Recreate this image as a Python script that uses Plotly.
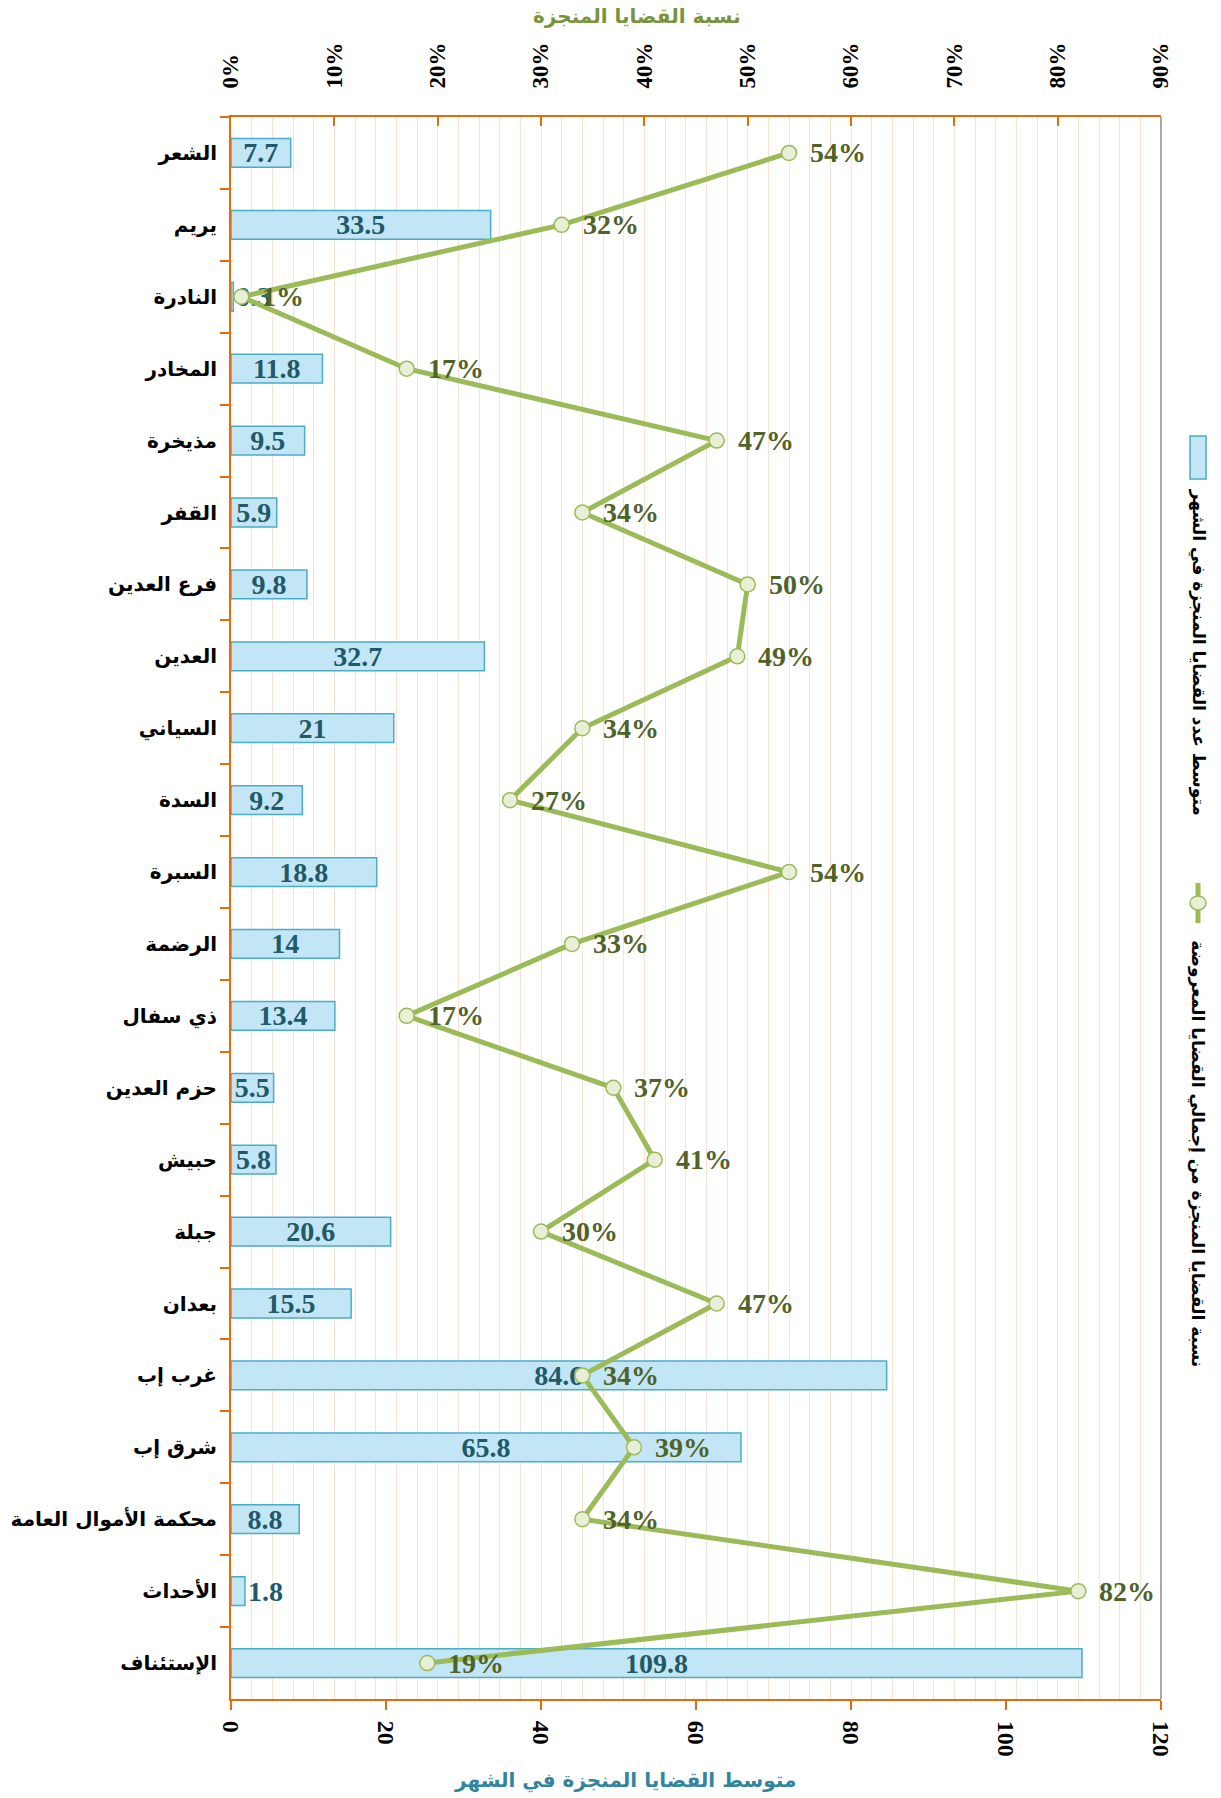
import plotly.graph_objects as go

# Courts (top to bottom)
courts = [
    "الشعر", "يريم", "النادرة", "المخادر", "مذيخرة", "القفر", "فرع العدين",
    "العدين", "السياني", "السدة", "السبرة", "الرضمة", "ذي سفال", "حزم العدين",
    "حبيش", "جبلة", "بعدان", "غرب إب", "شرق إب", "محكمة الأموال العامة",
    "الأحداث", "الإستئناف",
]
# Average number of completed cases per month
monthly_avg = [7.7, 33.5, 0.3, 11.8, 9.5, 5.9, 9.8, 32.7, 21, 9.2, 18.8, 14,
               13.4, 5.5, 5.8, 20.6, 15.5, 84.6, 65.8, 8.8, 1.8, 109.8]
# Share of completed cases out of all cases presented (%)
completed_pct = [54, 32, 1, 17, 47, 34, 50, 49, 34, 27, 54, 33, 17, 37, 41,
                 30, 47, 34, 39, 34, 82, 19]

bottom_ticks = [0, 20, 40, 60, 80, 100, 120]
top_ticks = [0, 10, 20, 30, 40, 50, 60, 70, 80, 90]
top_tick_text = [f"{t}%" for t in top_ticks]

bar_name = "متوسط عدد القضايا المنجزة في الشهر"
line_name = "نسبة القضايا المنجزة من إجمالي القضايا المعروضة"
top_title = "نسبة القضايا المنجزة"
bottom_title = "متوسط القضايا المنجزة في الشهر"

ORANGE = "#E46C0A"
GRID = "#FCE2D2"
BAR_FILL = "#C2E6F5"
BAR_EDGE = "#4BACC6"
LINE = "#9BBB59"
TEAL_TXT = "#215968"
OLIVE_TXT = "#4F6228"
SERIF = "Liberation Serif, Times New Roman, serif"
ARABIC = "DejaVu Sans, sans-serif"

fig = go.Figure()

fig.add_trace(go.Bar(
    y=courts, x=monthly_avg, orientation="h", name=bar_name,
    marker=dict(color=BAR_FILL, line=dict(color=BAR_EDGE, width=1.5)),
    text=[f"{v:g}" for v in monthly_avg],
    textposition=["outside" if v < 3 else "inside" for v in monthly_avg],
    insidetextanchor="middle", constraintext="none", textangle=0,
    cliponaxis=False,
    textfont=dict(family=SERIF, size=28, color=TEAL_TXT, weight="bold"),
    xaxis="x", yaxis="y", showlegend=False,
))

fig.add_trace(go.Scatter(
    y=courts, x=completed_pct, mode="lines+markers", name=line_name,
    line=dict(color=LINE, width=5),
    marker=dict(size=15, color="#E8EFD6", line=dict(color=LINE, width=1.5)),
    xaxis="x2", yaxis="y", showlegend=False, cliponaxis=False,
))

annotations = []
for c, p in zip(courts, completed_pct):
    annotations.append(dict(
        x=p, y=c, xref="x2", yref="y", text=f"{p}%", showarrow=False,
        xanchor="left", xshift=19,
        font=dict(family=SERIF, size=28, color=OLIVE_TXT, weight="bold"),
    ))

# Axis titles
annotations.append(dict(
    x=0.437, y=1, xref="paper", yref="paper", yshift=101, text=top_title,
    showarrow=False, xanchor="center", yanchor="middle",
    font=dict(family=ARABIC, size=20, color="#77933C", weight="bold"),
))
annotations.append(dict(
    x=0.424, y=0, xref="paper", yref="paper", yshift=-81, text=bottom_title,
    showarrow=False, xanchor="center", yanchor="middle",
    font=dict(family=ARABIC, size=20, color="#31859C", weight="bold"),
))

# Vertical legend on the right
annotations.append(dict(
    x=1.0398, y=0.662, xref="paper", yref="paper", text=bar_name,
    showarrow=False, textangle=90, xanchor="center", yanchor="middle",
    font=dict(family=ARABIC, size=17, color="black", weight="bold"),
))
annotations.append(dict(
    x=1.0398, y=0.345, xref="paper", yref="paper", text=line_name,
    showarrow=False, textangle=90, xanchor="center", yanchor="middle",
    font=dict(family=ARABIC, size=17, color="black", weight="bold"),
))

shapes = [
    # right border of the plot area
    dict(type="line", xref="paper", yref="paper", x0=1, x1=1, y0=0, y1=1,
         line=dict(color="#8C8C8C", width=1.5)),
    # legend swatch: bar
    dict(type="rect", xref="paper", yref="paper", xsizemode="pixel",
         xanchor=1.0398, x0=-8, x1=8, y0=0.7712, y1=0.7984,
         fillcolor=BAR_FILL, line=dict(color=BAR_EDGE, width=1.5)),
    # legend swatch: line + marker
    dict(type="line", xref="paper", yref="paper", xsizemode="pixel",
         xanchor=1.0398, x0=0, x1=0, y0=0.4905, y1=0.5158,
         line=dict(color=LINE, width=5)),
    dict(type="circle", xref="paper", yref="paper", xsizemode="pixel",
         ysizemode="pixel", xanchor=1.0398, yanchor=0.5032,
         x0=-8, x1=8, y0=-7, y1=7,
         fillcolor="#E8EFD6", line=dict(color=LINE, width=1.5)),
]

fig.update_layout(
    width=1221, height=1798,
    margin=dict(l=231, r=60, t=117, b=99),
    paper_bgcolor="white", plot_bgcolor="white",
    bargap=0.6,
    showlegend=False,
    annotations=annotations,
    shapes=shapes,
    xaxis=dict(
        range=[0, 120], tickvals=bottom_ticks, side="bottom",
        showgrid=False, zeroline=False, automargin=False,
        showline=True, linecolor=ORANGE, linewidth=2,
        ticks="outside", ticklen=9, tickwidth=2, tickcolor=ORANGE,
        tickangle=90, ticklabelstandoff=6,
        tickfont=dict(family=SERIF, size=24, color="black", weight="bold"),
    ),
    xaxis2=dict(
        range=[0, 90], tickvals=top_ticks, ticktext=top_tick_text, side="top",
        overlaying="x", anchor="y", automargin=False,
        showgrid=True, gridcolor=GRID, gridwidth=1, zeroline=False,
        minor=dict(dtick=2, showgrid=True, gridcolor=GRID, gridwidth=1),
        showline=True, linecolor=ORANGE, linewidth=2,
        ticks="inside", ticklen=9, tickwidth=2, tickcolor=ORANGE,
        tickangle=-90, ticklabelstandoff=22,
        tickfont=dict(family=SERIF, size=23, color="black", weight="bold"),
    ),
    yaxis=dict(
        type="category", range=[len(courts) - 0.5, -0.5],
        showgrid=False, zeroline=False, automargin=False,
        showline=True, linecolor=ORANGE, linewidth=2,
        ticks="outside", ticklen=9, tickwidth=2, tickcolor=ORANGE,
        tickson="boundaries", ticklabelstandoff=8,
        tickfont=dict(family=ARABIC, size=20, color="black", weight="bold"),
    ),
)

fig.write_html("out.html")
